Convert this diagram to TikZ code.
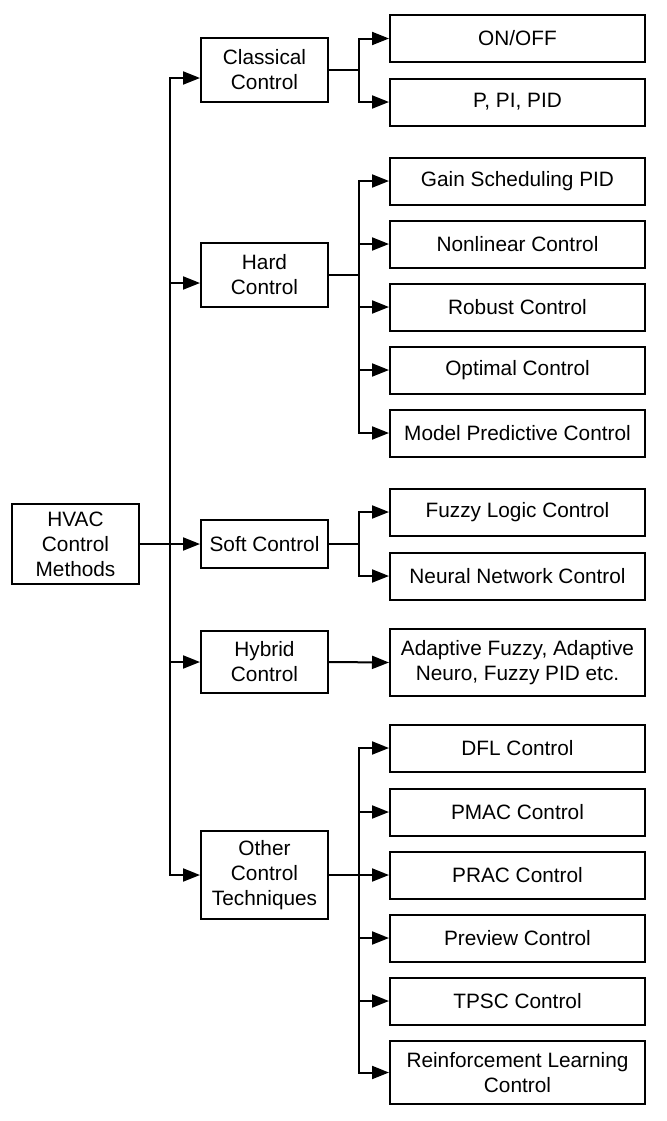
\documentclass[tikz,border=0pt]{standalone}
\usepackage{fontspec}
\setmainfont{Liberation Sans}
\usetikzlibrary{arrows.meta}
\begin{document}
\begin{tikzpicture}[
    x=0.5pt, y=-0.5pt,
    every node/.style={font=\fontsize{10.4}{12.5}\selectfont},
    group/.style={rectangle, draw, line width=1pt, minimum width=63.5pt, minimum height=32pt, align=center, inner sep=2pt},
    method/.style={rectangle, draw, line width=1pt, minimum width=127.5pt, minimum height=23.5pt, align=center, inner sep=2pt},
    arrow/.style={-{Triangle[length=8.5pt, width=6.5pt]}, line width=1pt},
    link/.style={line width=1pt}
]
    \useasboundingbox (0,0) rectangle (667,1121);

    % Root
    \node[group, minimum height=40pt] (hvac) at (75.5,544) {HVAC\\Control\\Methods};

    % Middle column: families of methods
    \node[group] (classical) at (264.5,70) {Classical\\Control};
    \node[group] (hard) at (264.5,275) {Hard\\Control};
    \node[group, minimum height=24pt] (soft) at (264.5,544) {Soft Control};
    \node[group, minimum height=31pt] (hybrid) at (264.5,662) {Hybrid\\Control};
    \node[group, minimum height=44pt] (other) at (264.5,875) {Other\\Control\\Techniques};

    % Right column: single methods
    \node[method] (onoff) at (517.5,38.5) {ON/OFF};
    \node[method] (pid) at (517.5,102) {P, PI, PID};

    \node[method] (gain) at (517.5,181) {Gain Scheduling PID};
    \node[method] (nonlin) at (517.5,244) {Nonlinear Control};
    \node[method] (robust) at (517.5,307) {Robust Control};
    \node[method] (optimal) at (517.5,370) {Optimal Control};
    \node[method] (mpc) at (517.5,433) {Model Predictive Control};

    \node[method] (fuzzy) at (517.5,512) {Fuzzy Logic Control};
    \node[method] (neural) at (517.5,576) {Neural Network Control};

    \node[method, minimum height=33.5pt] (adaptive) at (517.5,662.5) {Adaptive Fuzzy, Adaptive\\Neuro, Fuzzy PID etc.};

    \node[method] (dfl) at (517.5,748) {DFL Control};
    \node[method] (pmac) at (517.5,812) {PMAC Control};
    \node[method] (prac) at (517.5,875) {PRAC Control};
    \node[method] (preview) at (517.5,938) {Preview Control};
    \node[method] (tpsc) at (517.5,1001) {TPSC Control};
    \node[method, minimum height=31.5pt] (rl) at (517.5,1072.5) {Reinforcement Learning\\Control};

    % Trunk from the root
    \coordinate (trunk) at (170,544);
    \coordinate (fork) at (359,544);
    \coordinate (cin) at ([yshift=-4pt]classical.west);
    \coordinate (hin) at ([yshift=-4pt]hard.west);
    \draw[arrow] (hvac.east) -- (soft.west);
    \draw[arrow] (trunk) |- (cin);
    \draw[arrow] (trunk) |- (other.west);
    \draw[arrow] (trunk |- hin) -- (hin);
    \draw[arrow] (trunk |- hybrid.west) -- (hybrid.west);

    % Classical control
    \draw[link] (classical.east) -- (classical.east -| fork);
    \draw[arrow] (classical.east -| fork) |- (onoff.west);
    \draw[arrow] (classical.east -| fork) |- (pid.west);

    % Hard control
    \draw[link] (hard.east) -- (hard.east -| fork);
    \draw[arrow] (hard.east -| fork) |- (gain.west);
    \draw[arrow] (hard.east -| fork) |- (mpc.west);
    \draw[arrow] (fork |- nonlin.west) -- (nonlin.west);
    \draw[arrow] (fork |- robust.west) -- (robust.west);
    \draw[arrow] (fork |- optimal.west) -- (optimal.west);

    % Soft control
    \draw[link] (soft.east) -- (soft.east -| fork);
    \draw[arrow] (soft.east -| fork) |- (fuzzy.west);
    \draw[arrow] (soft.east -| fork) |- (neural.west);

    % Hybrid control
    \draw[arrow] (hybrid.east) -- (adaptive.west);

    % Other control techniques
    \draw[arrow] (other.east) -- (prac.west);
    \draw[arrow] (other.east -| fork) |- (dfl.west);
    \draw[arrow] (other.east -| fork) |- (rl.west);
    \draw[arrow] (fork |- pmac.west) -- (pmac.west);
    \draw[arrow] (fork |- preview.west) -- (preview.west);
    \draw[arrow] (fork |- tpsc.west) -- (tpsc.west);
\end{tikzpicture}
\end{document}
